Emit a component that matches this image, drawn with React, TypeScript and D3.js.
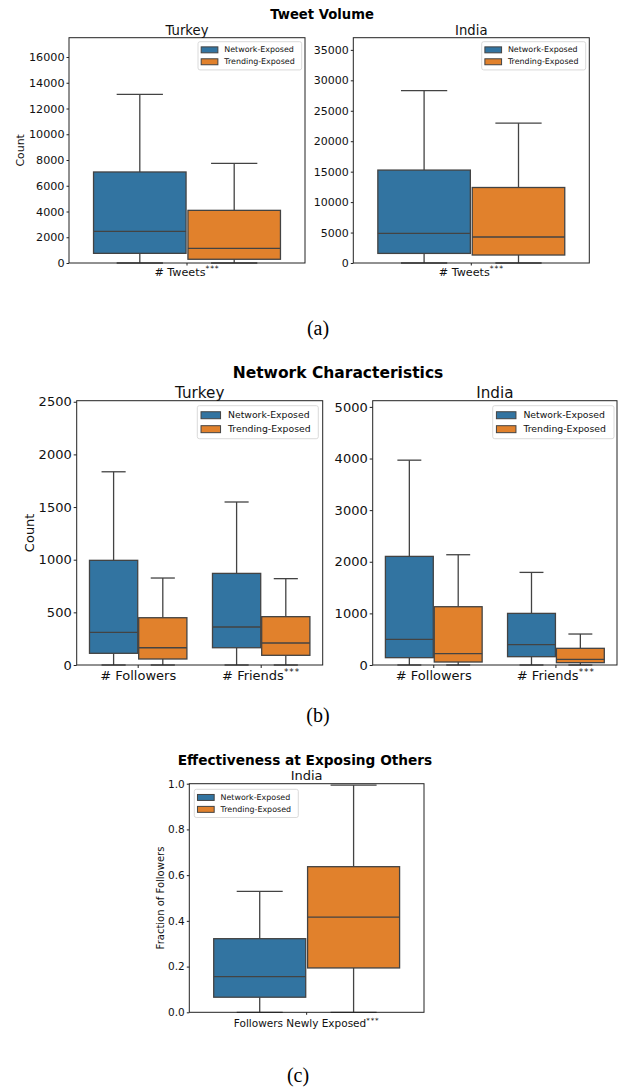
import { useEffect, useRef } from 'react';
import * as d3 from 'd3';

// series names and colours (seaborn default, desaturated)
const seriesNames = ['Network-Exposed', 'Trending-Exposed'];
const seriesColors = ['#3274a1', '#e1812c'];

// box stats: [whisker low, q1, median, q3, whisker high]
const tweetCats = ['# Tweets'];
const tweetSig = ['***'];
const tweetTurkeyNetwork = [[0, 750, 2460, 7070, 13100]];
const tweetTurkeyTrending = [[0, 290, 1140, 4090, 7740]];
const tweetIndiaNetwork = [[0, 1575, 4860, 15260, 28320]];
const tweetIndiaTrending = [[0, 1310, 4270, 12400, 22970]];
const tweetTurkeyTicks = [0, 2000, 4000, 6000, 8000, 10000, 12000, 14000, 16000];
const tweetIndiaTicks = [0, 5000, 10000, 15000, 20000, 25000, 30000, 35000];

const netCats = ['# Followers', '# Friends'];
const netSig = ['', '***'];
const netTurkeyNetwork = [[0, 111, 310, 994, 1835], [0, 164, 361, 870, 1548]];
const netTurkeyTrending = [[0, 57, 164, 449, 826], [0, 92, 209, 459, 820]];
const netIndiaNetwork = [[0, 142, 497, 2104, 3968], [0, 161, 393, 1000, 1794]];
const netIndiaTrending = [[0, 58, 219, 1129, 2136], [0, 45, 110, 323, 600]];
const netTurkeyTicks = [0, 500, 1000, 1500, 2000, 2500];
const netIndiaTicks = [0, 1000, 2000, 3000, 4000, 5000];

const effCats = ['Followers Newly Exposed'];
const effSig = ['***'];
const effIndiaNetwork = [[0, 0.066, 0.156, 0.322, 0.529]];
const effIndiaTrending = [[0, 0.194, 0.416, 0.637, 0.994]];
const effTicks = [0, 0.2, 0.4, 0.6, 0.8, 1.0];

const FONT = 'DejaVu Sans';
const EDGE = '#434343';

interface Panel {
  x0: number; x1: number; y0: number; y1: number;
  ymax: number; ticks: number[]; fmt: (v: number) => string; tickFs: number; tickLen: number;
  cats: string[]; sig: string[]; stats: number[][][];
  title: string; titleY: number; titleFs: number;
  xLabelY: number; xLabelFs: number;
  yLabel?: string; yLabelX?: number; yLabelFs?: number;
  legend: { x: number; y: number; w: number; fs: number };
}

function drawPanel(svg: d3.Selection<SVGSVGElement, unknown, null, undefined>, p: Panel) {
  const g = svg.append('g');
  const x = d3.scaleBand().domain(p.cats).range([p.x0, p.x1]);
  const y = d3.scaleLinear().domain([0, p.ymax]).range([p.y1, p.y0]);
  const groupW = x.bandwidth() * 0.8;
  const hue = d3.scaleBand().domain(seriesNames).range([0, groupW]);
  const boxW = hue.bandwidth() * 0.98;

  // boxes
  seriesNames.forEach((s, si) => {
    p.cats.forEach((c, ci) => {
      const [lo, q1, med, q3, hi] = p.stats[si][ci];
      const left = (x(c) ?? 0) + (x.bandwidth() - groupW) / 2 + (hue(s) ?? 0) + (hue.bandwidth() - boxW) / 2;
      const cx = left + boxW / 2;
      const line = (x1: number, y1: number, x2: number, y2: number) =>
        g.append('line').attr('x1', x1).attr('y1', y1).attr('x2', x2).attr('y2', y2)
          .attr('stroke', EDGE).attr('stroke-width', 1.3);
      line(cx, y(q3), cx, y(hi));
      line(cx, y(q1), cx, y(lo));
      line(cx - boxW / 4, y(hi), cx + boxW / 4, y(hi));
      line(cx - boxW / 4, y(lo), cx + boxW / 4, y(lo));
      g.append('rect').attr('x', left).attr('y', y(q3)).attr('width', boxW).attr('height', y(q1) - y(q3))
        .attr('fill', seriesColors[si]).attr('stroke', EDGE).attr('stroke-width', 1.3);
      line(left, y(med), left + boxW, y(med));
    });
  });

  // frame
  g.append('rect').attr('x', p.x0).attr('y', p.y0).attr('width', p.x1 - p.x0).attr('height', p.y1 - p.y0)
    .attr('fill', 'none').attr('stroke', '#222').attr('stroke-width', 1);

  // y axis
  const ya = g.append('g').attr('transform', `translate(${p.x0},0)`)
    .call(d3.axisLeft(y).tickValues(p.ticks).tickFormat((d) => p.fmt(d as number)).tickSize(p.tickLen).tickPadding(2));
  ya.select('.domain').remove();
  ya.selectAll('text').attr('font-family', FONT).attr('font-size', p.tickFs).attr('fill', '#111');
  ya.selectAll('line').attr('stroke', '#222');

  // x ticks + labels
  p.cats.forEach((c, ci) => {
    const cx = (x(c) ?? 0) + x.bandwidth() / 2;
    g.append('line').attr('x1', cx).attr('x2', cx).attr('y1', p.y1).attr('y2', p.y1 + p.tickLen).attr('stroke', '#222');
    const t = g.append('text').attr('x', cx).attr('y', p.xLabelY).attr('text-anchor', 'middle')
      .attr('font-family', FONT).attr('font-size', p.xLabelFs).attr('fill', '#111');
    t.append('tspan').text(c);
    if (p.sig[ci]) {
      t.append('tspan').attr('dy', -p.xLabelFs * 0.42).attr('font-size', p.xLabelFs * 0.68)
        .attr('letter-spacing', p.xLabelFs * 0.08).text(p.sig[ci]);
    }
  });

  // panel title
  g.append('text').attr('x', (p.x0 + p.x1) / 2).attr('y', p.titleY).attr('text-anchor', 'middle')
    .attr('font-family', FONT).attr('font-size', p.titleFs).attr('fill', '#111').text(p.title);

  if (p.yLabel) {
    g.append('text').attr('transform', `translate(${p.yLabelX},${(p.y0 + p.y1) / 2}) rotate(-90)`)
      .attr('text-anchor', 'middle').attr('dy', '0.35em')
      .attr('font-family', FONT).attr('font-size', p.yLabelFs ?? 11).attr('fill', '#111').text(p.yLabel);
  }

  // legend
  const L = p.legend;
  const row = L.fs * 1.5;
  const lg = g.append('g').attr('transform', `translate(${L.x},${L.y})`);
  lg.append('rect').attr('width', L.w).attr('height', row * 2 + L.fs * 0.55).attr('rx', 2)
    .attr('fill', 'white').attr('fill-opacity', 0.8).attr('stroke', '#d0d0d0').attr('stroke-width', 0.8);
  seriesNames.forEach((s, i) => {
    const cy = L.fs * 1.0 + i * row;
    lg.append('rect').attr('x', L.fs * 0.4).attr('y', cy - L.fs * 0.35).attr('width', L.fs * 2.1).attr('height', L.fs * 0.75)
      .attr('fill', seriesColors[i]).attr('stroke', EDGE).attr('stroke-width', 1);
    lg.append('text').attr('x', L.fs * 3.3).attr('y', cy).attr('dy', '0.35em')
      .attr('font-family', FONT).attr('font-size', L.fs).attr('fill', '#111').text(s);
  });
}

const intFmt = d3.format('d');
const decFmt = d3.format('.1f');

export default function App() {
  const ref = useRef<SVGSVGElement>(null);

  useEffect(() => {
    if (!ref.current) return;
    const svg = d3.select(ref.current);
    svg.selectAll('*').remove();

    const supTitle = (txt: string, xx: number, yy: number, fs: number) =>
      svg.append('text').attr('x', xx).attr('y', yy).attr('text-anchor', 'middle').attr('font-family', FONT)
        .attr('font-weight', 'bold').attr('font-size', fs).attr('fill', '#000').text(txt);
    const caption = (txt: string, xx: number, yy: number) =>
      svg.append('text').attr('x', xx).attr('y', yy).attr('text-anchor', 'middle')
        .attr('font-family', 'Liberation Serif').attr('font-size', 20).attr('fill', '#000').text(txt);

    // (a)
    supTitle('Tweet Volume', 322, 18.5, 13.2);
    drawPanel(svg, {
      x0: 69, x1: 305, y0: 37.7, y1: 263, ymax: 17500, ticks: tweetTurkeyTicks, fmt: intFmt, tickFs: 11.2, tickLen: 2.5,
      cats: tweetCats, sig: tweetSig, stats: [tweetTurkeyNetwork, tweetTurkeyTrending],
      title: 'Turkey', titleY: 34.5, titleFs: 13.2, xLabelY: 275.5, xLabelFs: 11.2,
      yLabel: 'Count', yLabelX: 20, yLabelFs: 10.9,
      legend: { x: 198, y: 41.7, w: 103.7, fs: 7.95 },
    });
    drawPanel(svg, {
      x0: 353.3, x1: 589.3, y0: 37.7, y1: 263, ymax: 37000, ticks: tweetIndiaTicks, fmt: intFmt, tickFs: 11, tickLen: 2.5,
      cats: tweetCats, sig: tweetSig, stats: [tweetIndiaNetwork, tweetIndiaTrending],
      title: 'India', titleY: 34.5, titleFs: 13.2, xLabelY: 275.5, xLabelFs: 11.2,
      legend: { x: 481.7, y: 41.7, w: 104, fs: 7.95 },
    });
    caption('(a)', 318, 335);

    // (b)
    supTitle('Network Characteristics', 338, 378.3, 15.5);
    drawPanel(svg, {
      x0: 76.7, x1: 322.7, y0: 400.7, y1: 665, ymax: 2510, ticks: netTurkeyTicks, fmt: intFmt, tickFs: 13, tickLen: 3,
      cats: netCats, sig: netSig, stats: [netTurkeyNetwork, netTurkeyTrending],
      title: 'Turkey', titleY: 397.5, titleFs: 15.2, xLabelY: 680, xLabelFs: 13,
      yLabel: 'Count', yLabelX: 29.3, yLabelFs: 13,
      legend: { x: 197.3, y: 405.7, w: 121, fs: 9.3 },
    });
    drawPanel(svg, {
      x0: 372.7, x1: 617, y0: 400.7, y1: 665, ymax: 5120, ticks: netIndiaTicks, fmt: intFmt, tickFs: 13, tickLen: 3,
      cats: netCats, sig: netSig, stats: [netIndiaNetwork, netIndiaTrending],
      title: 'India', titleY: 397.5, titleFs: 15.2, xLabelY: 680, xLabelFs: 13,
      legend: { x: 492.7, y: 405.7, w: 121.3, fs: 9.3 },
    });
    caption('(b)', 318, 721.7);

    // (c)
    supTitle('Effectiveness at Exposing Others', 305, 765, 13.7);
    drawPanel(svg, {
      x0: 189.3, x1: 424, y0: 783.7, y1: 1012.3, ymax: 1, ticks: effTicks, fmt: decFmt, tickFs: 10.5, tickLen: 2.5,
      cats: effCats, sig: effSig, stats: [effIndiaNetwork, effIndiaTrending],
      title: 'India', titleY: 780, titleFs: 13, xLabelY: 1027, xLabelFs: 10.5,
      yLabel: 'Fraction of Followers', yLabelX: 160, yLabelFs: 10,
      legend: { x: 194.3, y: 789.3, w: 104, fs: 7.95 },
    });
    caption('(c)', 298, 1081.7);
  }, []);

  return (
    <svg ref={ref} width={622} height={1089}
      style={{ position: 'absolute', left: 0, top: 0, background: 'white' }} />
  );
}
